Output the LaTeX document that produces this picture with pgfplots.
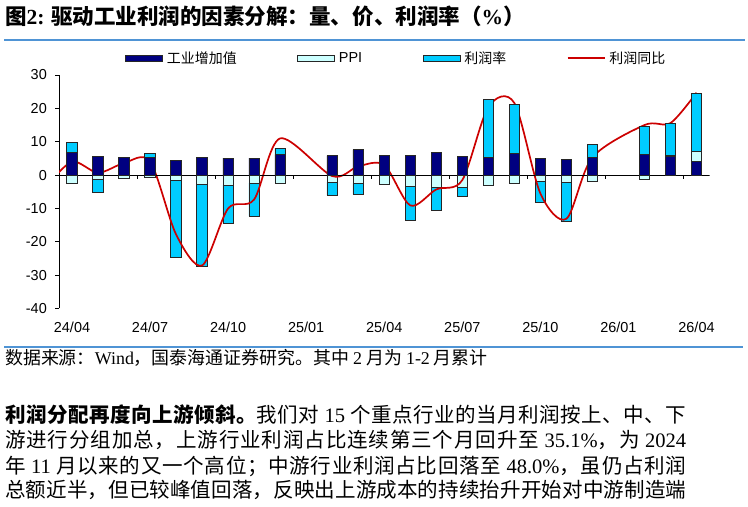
\documentclass[border=0pt]{standalone}
\usepackage{fontspec}
\usepackage{pgfplots}
\pgfplotsset{compat=1.18}
\setmainfont{Liberation Serif}
\newfontfamily\cjk{Noto Sans CJK SC}
\newfontfamily\arial{Liberation Sans}
\definecolor{ivacol}{HTML}{000080}
\definecolor{ppicol}{HTML}{CCFFFF}
\definecolor{pmcol}{HTML}{00CCFF}
\definecolor{linecol}{HTML}{CC0000}
\definecolor{rulecol}{RGB}{79,148,213}
\definecolor{edgecol}{HTML}{262626}
\newcommand\lat[1]{{\rmfamily #1}}

% stretchable glue between CJK characters, for justified lines
\XeTeXinterchartokenstate=1
\newXeTeXintercharclass\cjkclass
\count255="3000
\loop
  \XeTeXcharclass\count255=\cjkclass
  \ifnum\count255<"303F \advance\count255 by 1 \repeat
\count255="4E00
\loop
  \XeTeXcharclass\count255=\cjkclass
  \ifnum\count255<"9FFF \advance\count255 by 1 \repeat
\count255="FF00
\loop
  \XeTeXcharclass\count255=\cjkclass
  \ifnum\count255<"FF5F \advance\count255 by 1 \repeat
\XeTeXinterchartoks\cjkclass\cjkclass={\hskip0pt plus 2bp\relax}

\pgfplotsset{
  base/.style={
    scale only axis, width=650.5bp, height=233.5bp,
    at={(59bp,198.5bp)}, anchor=south west,
    xmin=-0.5, xmax=24.5, ymin=-40, ymax=30,
    ybar stacked, bar width=10.5bp,
  },
  barsty/.style={draw=edgecol, line width=0.75bp, fill=#1},
  boxleg/.style={legend image code/.code={\draw[##1] (0bp,-3bp) rectangle (37bp,3bp);}},
  lineleg/.style={legend image code/.code={\draw[##1] (0bp,0bp) -- (37bp,0bp);}},
}

\begin{document}
\begin{tikzpicture}
\useasboundingbox (0,0) rectangle (748bp,507bp);

% negative parts of the stacks
\begin{axis}[base, hide axis]
\addplot[barsty=ppicol, forget plot] coordinates {
(0,-2.6) (1,-1.2) (2,-0.9) (3,-0.7) (4,-1.7) (5,-2.9) (6,-3.0) (7,-2.4) (8,-2.4)
(10,-2.2) (11,-2.5) (12,-2.8) (13,-3.4) (14,-3.7) (15,-3.6) (16,-3.0) (17,-2.4)
(18,-2.0) (19,-2.2) (20,-2.0) (22,-1.2)};
\addplot[barsty=pmcol, forget plot] coordinates {
(0,0) (1,-4.0) (2,0) (3,0) (4,-22.9) (5,-24.5) (6,-11.5) (7,-9.9) (8,0)
(10,-3.8) (11,-3.3) (12,0) (13,-10.3) (14,-6.9) (15,-2.8) (16,0) (17,0)
(18,-6.3) (19,-11.6) (20,0) (22,0)};
\end{axis}

% positive parts, axes, line and legend
\begin{axis}[base,
  axis y line*=left, axis x line*=bottom,
  axis line style={-},
  x axis line style={draw=none},
  y axis line style={black, line width=0.8bp},
  xtick={0,3,...,24},
  xticklabels={24/04,24/07,24/10,25/01,25/04,25/07,25/10,26/01,26/04},
  xtick style={draw=none},
  ytick={-40,-30,...,30},
  yticklabels={-40,-30,-20,-10,0,10,20,30},
  tick align=outside, major tick length=4bp,
  ytick style={black, line width=0.8bp},
  ticklabel style={font=\arial\fontsize{14.5}{14.5}\selectfont, text=black},
  xticklabel style={inner sep=0pt, yshift=-9bp},
  yticklabel style={inner sep=0pt, xshift=-8bp},
  legend columns=4,
  legend style={at={(0.1015,1.0726)}, anchor=west, draw=none, fill=none,
    inner sep=0pt, font=\cjk\fontsize{14}{14}\selectfont,
    /tikz/every even column/.append style={column sep=58.5bp},
    /tikz/every odd column/.append style={column sep=2bp}},
  legend cell align=left,
]
\addplot[barsty=ivacol, boxleg] coordinates {
(0,6.8) (1,5.6) (2,5.3) (3,5.2) (4,4.5) (5,5.3) (6,5.1) (7,5.1) (8,6.1)
(10,5.8) (11,7.6) (12,6.0) (13,5.8) (14,6.9) (15,5.7) (16,5.2) (17,6.5)
(18,4.9) (19,4.8) (20,5.2) (22,6.3) (23,5.7) (24,4.2)};
\addlegendentry{工业增加值}
\addplot[barsty=ppicol, boxleg] coordinates {
(0,0) (1,0) (2,0) (3,0) (4,0) (5,0) (6,0) (7,0) (8,0)
(10,0) (11,0) (12,0) (13,0) (14,0) (15,0) (16,0) (17,0)
(18,0) (19,0) (20,0) (22,0) (23,0.3) (24,2.8)};
\addlegendentry{\arial\fontsize{14.5}{14.5}\selectfont PPI}
\addplot[barsty=pmcol, boxleg] coordinates {
(0,3.0) (1,0) (2,0) (3,1.3) (4,0) (5,0) (6,0) (7,0) (8,2.0)
(10,0) (11,0) (12,0) (13,0) (14,0) (15,0) (16,17.5) (17,14.8)
(18,0) (19,0) (20,4.1) (22,8.4) (23,9.6) (24,17.5)};
\addlegendentry{利润率}
\draw[black, line width=0.8bp] (axis cs:-0.5,0) -- (axis cs:24.5,0);
\pgfplotsinvokeforeach{2.5,5.5,8.5,11.5,14.5,17.5,20.5,23.5}{
  \draw[black, line width=0.8bp] (axis cs:#1,0) -- ++(0bp,-4bp);
}
\addplot[linecol, line width=1.7bp, stack plots=false, sharp plot, smooth, tension=0.5, mark=none, lineleg] coordinates {
(-1,-3.5) (0,4.0) (1,0.7) (2,3.6) (3,4.1) (4,-17.8) (5,-27.1) (6,-10.0) (7,-7.3)
(8,11.0) (10,-0.3) (11,2.6) (12,3.0) (13,-9.1) (14,-4.3) (15,-1.5) (16,20.4)
(17,21.6) (18,-5.5) (19,-13.1) (20,5.3) (22,15.0) (23,15.6) (24,24.7)};
\addlegendentry{利润同比}
\end{axis}

% title, rules, source and text
\node[anchor=base west, inner sep=0pt, font=\cjk\bfseries\fontsize{21.6}{21.6}\selectfont]
  at (5bp,482bp) {图\lat{2:} 驱动工业利润的因素分解：量、价、利润率（\lat{\%}）};
\draw[rulecol, line width=2.5bp] (4bp,467bp) -- (745bp,467bp);
\draw[rulecol, line width=2bp] (4bp,160bp) -- (743bp,160bp);
\node[anchor=base west, inner sep=0pt, font=\cjk\fontsize{18}{18}\selectfont]
  at (5bp,142bp) {数据来源：\lat{Wind}，国泰海通证券研究。其中 \lat{2} 月为 \lat{1-2} 月累计};
\node[anchor=base west, inner sep=0pt, font=\cjk\fontsize{20.6}{20.6}\selectfont]
  at (5bp,84bp) {\makebox[681bp][s]{{\bfseries 利润分配再度向上游倾斜。}我们对 \lat{15} 个重点行业的当月利润按上、中、下}};
\node[anchor=base west, inner sep=0pt, font=\cjk\fontsize{20.6}{20.6}\selectfont]
  at (5bp,59bp) {\makebox[681bp][s]{游进行分组加总，上游行业利润占比连续第三个月回升至 \lat{35.1\%}，为 \lat{2024}}};
\node[anchor=base west, inner sep=0pt, font=\cjk\fontsize{20.6}{20.6}\selectfont]
  at (5bp,34bp) {\makebox[681bp][s]{年 \lat{11} 月以来的又一个高位；中游行业利润占比回落至 \lat{48.0\%}，虽仍占利润}};
\node[anchor=base west, inner sep=0pt, font=\cjk\fontsize{20.6}{20.6}\selectfont]
  at (5bp,10bp) {\makebox[681bp][s]{总额近半，但已较峰值回落，反映出上游成本的持续抬升开始对中游制造端}};
\end{tikzpicture}
\end{document}
